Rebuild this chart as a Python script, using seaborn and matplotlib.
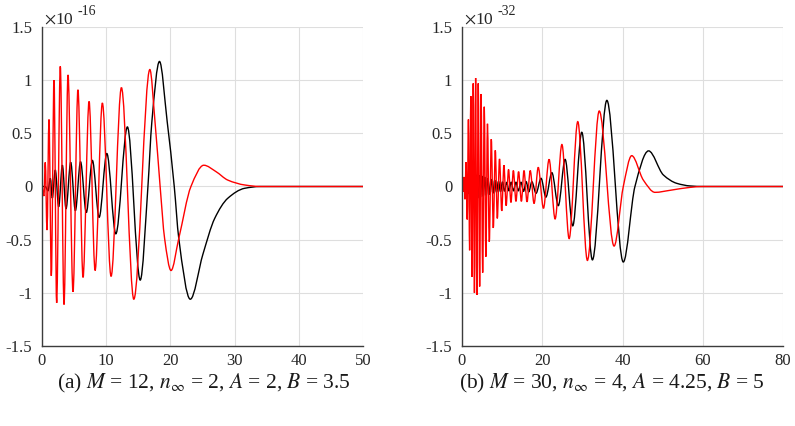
import numpy as np
import pandas as pd
import matplotlib
matplotlib.use("Agg")
import matplotlib.pyplot as plt
from matplotlib.path import Path
from matplotlib.patches import PathPatch
import seaborn as sns

# panel (a): M = 12, values in units of 1e-16 (extrema and a few points)
a_black_x = [0, 0.5, 0.93, 1.3, 1.6, 2.07, 2.6, 3.17, 3.74, 4.47, 5.2, 6.0, 6.9, 7.85, 8.9,
             10.1, 11.5, 13.3, 15.3, 16.5, 17.1, 18.3, 19.5, 20.6, 21.3, 23.1, 25.05, 26.9,
             28.95, 31.56, 34, 50]
a_black_y = [0, 0.0, -0.04, 0.077, -0.11, 0.155, -0.19, 0.2, -0.21, 0.227, -0.227, 0.233, -0.245,
             0.245, -0.29, 0.31, -0.445, 0.56, -0.88, 0.0, 0.6, 1.176, 0.61, 0.0, -0.485, -1.06,
             -0.64, -0.30, -0.11, -0.017, 0, 0]

a_red_x = [0, 0.3, 0.51, 0.78, 1.09, 1.45, 1.87, 2.28, 2.85, 3.43, 4.05, 4.83, 5.6, 6.39, 7.33,
           8.27, 9.4, 10.76, 12.37, 14.3, 16.8, 17.6, 18.4, 19.1, 20.1, 21.3, 23.2, 25.2,
           27.1, 28.95, 31.6, 34, 50]
a_red_y = [0, -0.09, 0.227, -0.41, 0.63, -0.84, 1.0, -1.095, 1.13, -1.11, 1.05, -0.99, 0.91,
           -0.855, 0.80, -0.79, 0.785, -0.845, 0.93, -1.06, 1.10, 0.61, 0.0, -0.49, -0.79, -0.49,
           0.0, 0.20, 0.14, 0.06, 0.014, 0, 0]

# panel (b): M = 30, values in units of 1e-32
b_black_x = [0, 0.6, 0.9, 1.2, 1.5, 1.8, 2.1, 2.4, 2.7, 3.0, 3.3, 3.6, 3.9, 4.25, 4.6, 4.95, 5.3,
             5.65, 6.05, 6.45, 6.85, 7.25, 7.7, 8.15, 8.6, 9.1, 9.6, 10.1, 10.6, 11.15, 11.7,
             12.25, 12.85, 13.45, 14.05, 14.7, 15.35, 16.0, 16.65, 17.4, 18.45, 19.7, 20.9, 22.4,
             24.0, 25.7, 27.6, 29.85, 32.5, 36.1, 40.2, 43.1, 46.5, 50.2, 53.5, 56.9, 60, 80]
b_black_y = [0, 0.03, -0.04, 0.06, -0.07, 0.09, -0.1, 0.105, -0.11, 0.11, -0.11, 0.11, -0.11,
             0.105, -0.1, 0.1, -0.095, 0.09, -0.085, 0.08, -0.075, 0.07, -0.065, 0.06, -0.055,
             0.05, -0.05, 0.045, -0.045, 0.04, -0.04, 0.04, -0.04, 0.04, -0.04, 0.04, -0.045,
             0.045, -0.05, 0.045, -0.064, 0.077, -0.10, 0.13, -0.18, 0.255, -0.37, 0.51, -0.69,
             0.81, -0.71, 0.0, 0.335, 0.108, 0.03, 0.005, 0, 0]

b_red_x = [0, 0.3, 0.5, 0.75, 1.0, 1.3, 1.6, 1.9, 2.2, 2.5, 2.8, 3.1, 3.4, 3.7, 4.05, 4.4, 4.75,
           5.15, 5.55, 5.95, 6.35, 6.8, 7.3, 7.8, 8.3, 8.8, 9.35, 9.9, 10.45, 11.0, 11.6, 12.2,
           12.8, 13.45, 14.1, 14.8, 15.45, 16.2, 17.0, 17.96, 19.0, 20.3, 21.7, 23.2, 24.9,
           26.7, 28.85, 31.25, 34.2, 37.9, 40.2, 42.3, 45.2, 48.1, 52, 56.9, 60, 80]
b_red_y = [0, -0.05, 0.09, -0.12, 0.23, -0.31, 0.63, -0.6, 0.85, -0.85, 0.97, -1.0, 1.02, -1.02,
           0.97, -0.94, 0.87, -0.81, 0.75, -0.66, 0.59, -0.52, 0.445, -0.39, 0.34, -0.30, 0.26,
           -0.23, 0.20, -0.18, 0.16, -0.15, 0.15, -0.14, 0.14, -0.14, 0.15, -0.145, 0.15, -0.16,
           0.18, -0.205, 0.255, -0.305, 0.395, -0.49, 0.61, -0.695, 0.71, -0.56, 0.0, 0.29,
           0.06, -0.055, -0.035, -0.008, 0, 0]

panels = [
    dict(bx=a_black_x, by=a_black_y, rx=a_red_x, ry=a_red_y, xmax=50, xstep=10, exp="-16",
         cap_x=0.506, caption=r"(a) $M$ = 12, $n_\infty$ = 2, $A$ = 2, $B$ = 3.5"),
    dict(bx=b_black_x, by=b_black_y, rx=b_red_x, ry=b_red_y, xmax=80, xstep=20, exp="-32",
         cap_x=0.466, caption=r"(b) $M$ = 30, $n_\infty$ = 4, $A$ = 4.25, $B$ = 5"),
]


def smooth_line(ax, line, color):
    # redraw a seaborn line as a monotone cubic curve through its own points
    xy = line.get_xydata()
    x, y = xy[:, 0], xy[:, 1]
    line.remove()
    dx = np.diff(x)
    d = np.diff(y) / dx
    m = np.zeros_like(x)
    for i in range(1, len(x) - 1):
        if d[i - 1] * d[i] > 0:
            w1 = 2 * dx[i] + dx[i - 1]
            w2 = dx[i] + 2 * dx[i - 1]
            m[i] = (w1 + w2) / (w1 / d[i - 1] + w2 / d[i])
    verts = [(x[0], y[0])]
    codes = [Path.MOVETO]
    for i in range(len(dx)):
        h = dx[i] / 3
        verts += [(x[i] + h, y[i] + m[i] * h), (x[i + 1] - h, y[i + 1] - m[i + 1] * h),
                  (x[i + 1], y[i + 1])]
        codes += [Path.CURVE4] * 3
    ax.add_patch(PathPatch(Path(verts, codes), fill=False, edgecolor=color, lw=1.0,
                           transform=ax.transData, zorder=2))


sns.set_style("whitegrid")
plt.rcParams["font.family"] = ["Liberation Serif", "DejaVu Serif"]
plt.rcParams["mathtext.fontset"] = "stix"

fig = plt.figure(figsize=(7.95, 4.26), dpi=100)
lefts = [42 / 795, 462 / 795]
W, H = 321 / 795, 319 / 426
bottom = (426 - 346) / 426
axis_col = "#3c3c3c"

for p, left in zip(panels, lefts):
    ax = fig.add_axes([left, bottom, W, H])
    dfb = pd.DataFrame({"x": p["bx"], "y": p["by"]})
    dfr = pd.DataFrame({"x": p["rx"], "y": p["ry"]})
    sns.lineplot(data=dfb, x="x", y="y", ax=ax, color="black", estimator=None, sort=False)
    smooth_line(ax, ax.lines[-1], "black")
    sns.lineplot(data=dfr, x="x", y="y", ax=ax, color="red", estimator=None, sort=False)
    smooth_line(ax, ax.lines[-1], "red")
    ax.set_xlim(0, p["xmax"])
    ax.set_ylim(-1.5, 1.5)
    ax.set_xticks(np.arange(0, p["xmax"] + 1, p["xstep"]))
    ax.set_yticks([-1.5, -1, -0.5, 0, 0.5, 1, 1.5])
    ax.set_yticklabels(["-1.5", "-1", "-0.5", "0", "0.5", "1", "1.5"])
    ax.set_xlabel("")
    ax.set_ylabel("")
    ax.grid(True, color="#dedede", lw=0.8)
    for s in ["top", "right"]:
        ax.spines[s].set_visible(False)
    for s in ["left", "bottom"]:
        ax.spines[s].set_color(axis_col)
        ax.spines[s].set_linewidth(1.0)
    ax.tick_params(axis="both", colors=axis_col, labelcolor="#262626", labelsize=12, width=0.8)
    ax.tick_params(axis="y", length=0, pad=7)
    ax.tick_params(axis="x", length=4, direction="in", pad=5)
    ax.text(0.005, 1.012, r"$\times$10", transform=ax.transAxes, fontsize=12.5,
            color="#262626", ha="left", va="baseline")
    ax.text(0.11, 1.037, p["exp"], transform=ax.transAxes, fontsize=10,
            color="#262626", ha="left", va="baseline")
    ax.text(p["cap_x"], -0.116, p["caption"], transform=ax.transAxes, fontsize=15.5,
            color="#1a1a1a", ha="center", va="center")

fig.savefig("out.png", dpi=100, facecolor="white")
